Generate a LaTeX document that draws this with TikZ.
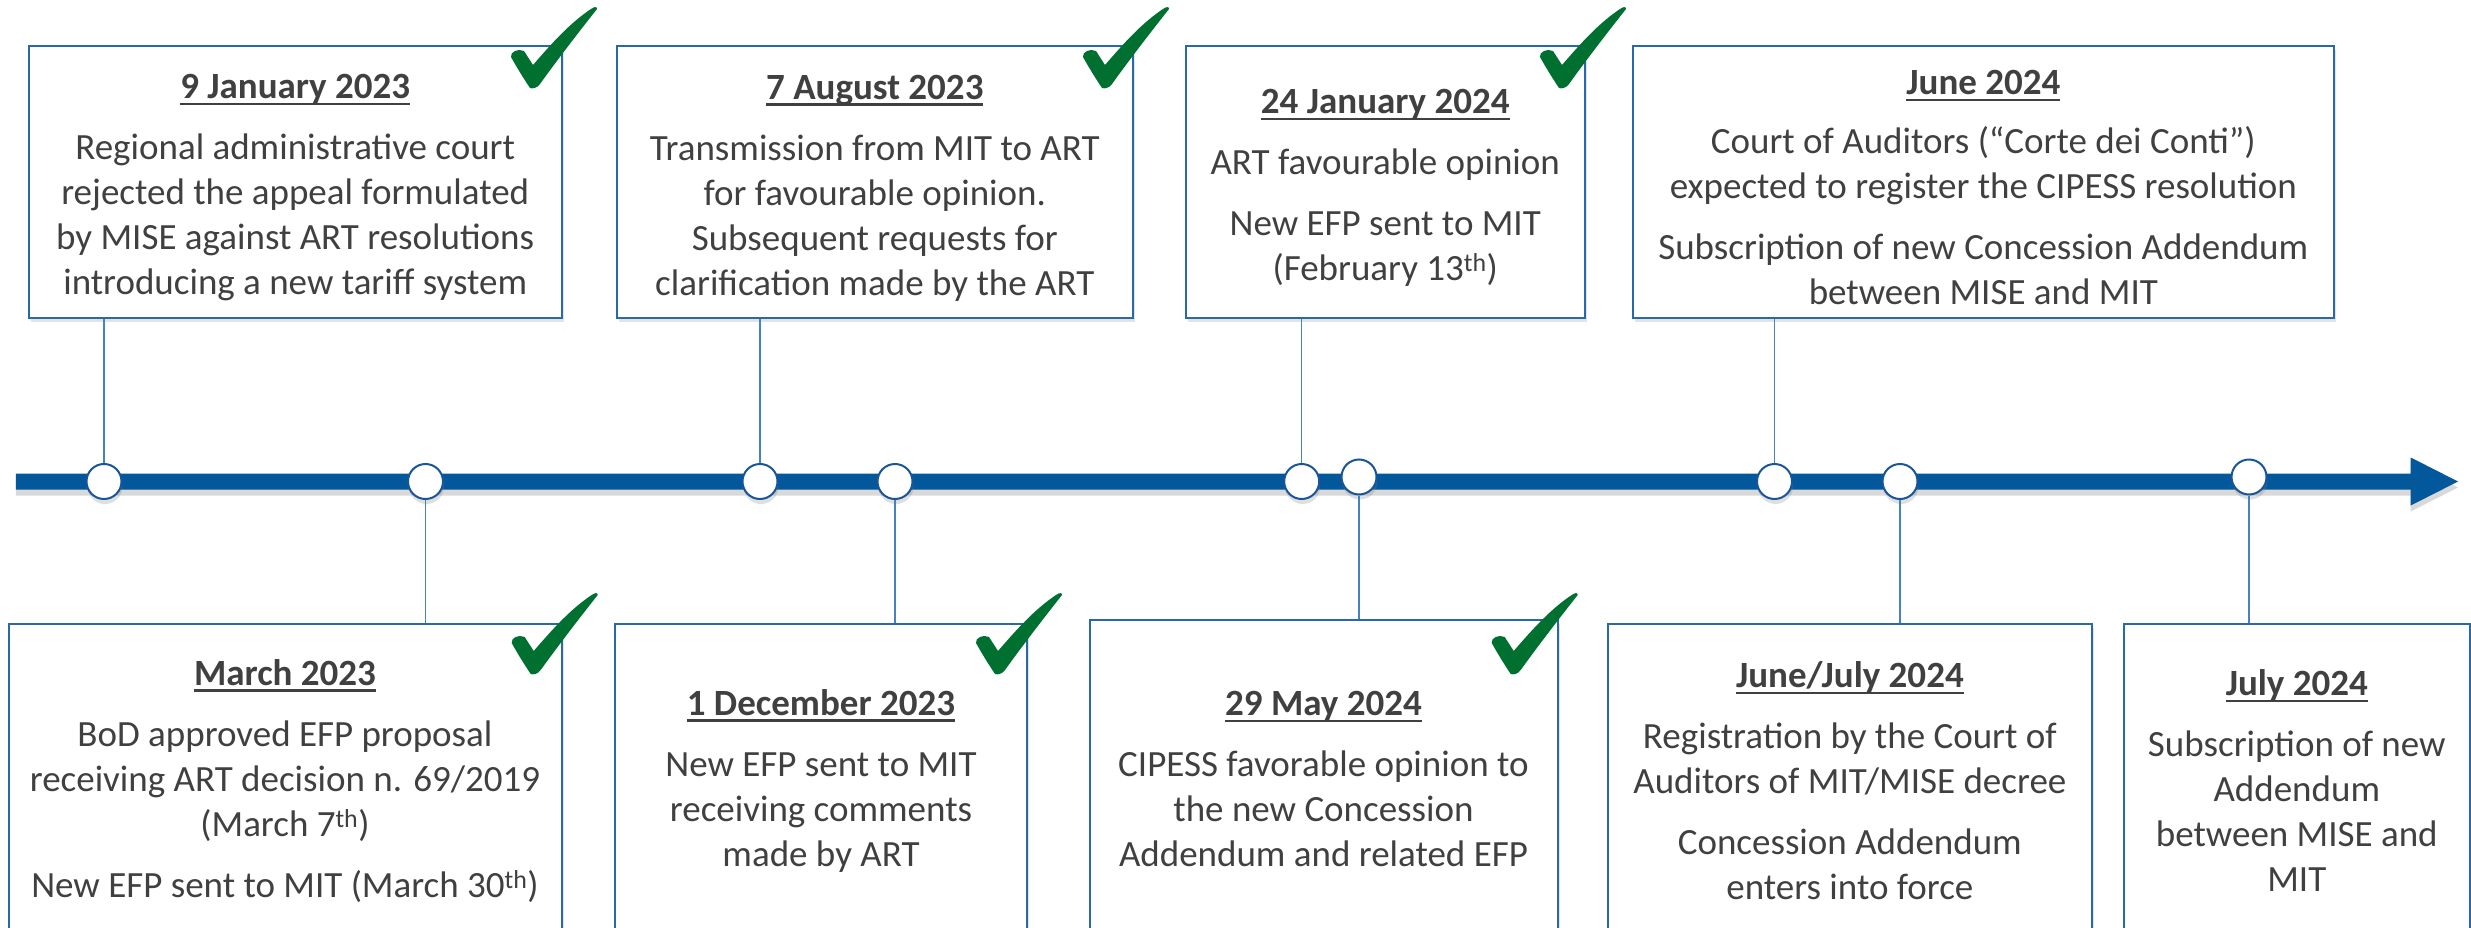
\documentclass[tikz,border=0pt]{standalone}
\usepackage{fontspec}
\setmainfont{Carlito}
\usetikzlibrary{shadows}
\definecolor{tl}{RGB}{2,88,154}
\definecolor{bx}{RGB}{40,105,170}
\definecolor{dotc}{RGB}{25,85,155}
\definecolor{cn}{RGB}{70,130,190}
\definecolor{txt}{RGB}{64,64,64}
\definecolor{ck}{RGB}{0,112,48}
\newcommand\ttl[1]{\setbox0=\hbox{\bfseries #1}\rlap{\vrule width\wd0 height -4pt depth 6.5pt}\box0}
\newcommand\tstrut{\rule{0pt}{36pt}}
\newcommand\chk[1]{\fill[ck, shift={(#1)}] (0,0) .. controls (-8,12) and (-14,22) .. (-19,31)
  .. controls (-20,36) and (-12,40) .. (-6,37) -- (3,23) .. controls (22,45) and (40,65) .. (61,79)
  .. controls (64,81) and (67,82) .. (67,79) .. controls (48,55) and (25,25) .. (10,4)
  .. controls (7,0) and (3,-1) .. (0,0) -- cycle;}
\begin{document}
\begin{tikzpicture}[x=1pt,y=1pt,
  box/.style={draw=bx, line width=2pt, fill=white, rectangle, inner sep=0pt, align=center, text=txt,
    font=\fontsize{37}{45}\selectfont, anchor=north west,
    drop shadow={opacity=0.22, shadow xshift=2pt, shadow yshift=-4pt}},
  dot/.style={circle, draw=dotc, line width=2pt, fill=white, minimum size=35pt, inner sep=0pt,
    drop shadow={opacity=0.25, shadow xshift=1pt, shadow yshift=-5pt}},
  conn/.style={draw=cn, line width=1.5pt}]
\useasboundingbox (0,0) rectangle (2471,-928);
\clip (0,0) rectangle (2471,-928);
% timeline
\coordinate (ts) at (15.8,-481.5);
\coordinate (te) at (2458,-481.5);
\fill[tl, drop shadow={opacity=0.3, shadow xshift=0pt, shadow yshift=-6pt}]
  ([yshift=8pt]ts) -- ([xshift=-47.3pt,yshift=8pt]te) -- ([xshift=-47.3pt,yshift=24pt]te) -- (te)
  -- ([xshift=-47.3pt,yshift=-24pt]te) -- ([xshift=-47.3pt,yshift=-8pt]te) -- ([yshift=-8pt]ts) -- cycle;
% top boxes
\node[box, minimum width=533pt, minimum height=272pt] (b1) at (27.7,-45)
  {\tstrut\ttl{9 January 2023}\\[16pt] Regional administrative court\\ rejected the appeal formulated\\ by MISE against ART resolutions\\ introducing a new tariff system};
\node[box, minimum width=516pt, minimum height=272pt] (b2) at (615.8,-45)
  {\tstrut\ttl{7 August 2023}\\[16pt] Transmission from MIT to ART\\ for favourable opinion.\\ Subsequent requests for\\ clarification made by the ART};
\node[box, minimum width=399.5pt, minimum height=272pt] (b3) at (1184.5,-45)
  {\tstrut\ttl{24 January 2024}\\[16pt] ART favourable opinion\\[16pt] New EFP sent to MIT\\ (February 13\textsuperscript{th})};
\node[box, minimum width=701.3pt, minimum height=272pt] (b4) at (1631.7,-45)
  {\tstrut\ttl{June 2024}\\[14pt] Court of Auditors (“Corte dei Conti”)\\ expected to register the CIPESS resolution\\[16pt] Subscription of new Concession Addendum\\ between MISE and MIT};
% bottom boxes
\node[box, minimum width=553pt, minimum height=314.3pt] (b5) at (7.5,-622.7)
  {\ttl{March 2023}\\[16pt] BoD approved EFP proposal\\ receiving ART decision n. 69/2019\\ (March 7\textsuperscript{th})\\[16pt] New EFP sent to MIT (March 30\textsuperscript{th})};
\node[box, minimum width=412pt, minimum height=314.3pt] (b6) at (614,-622.7)
  {\ttl{1 December 2023}\\[16pt] New EFP sent to MIT\\ receiving comments\\ made by ART};
\node[box, minimum width=468pt, minimum height=318pt] (b7) at (1088.5,-619)
  {\ttl{29 May 2024}\\[16pt] CIPESS favorable opinion to\\ the new Concession\\ Addendum and related EFP};
\node[box, minimum width=484.3pt, minimum height=314.3pt] (b8) at (1606.7,-622.7)
  {\ttl{June/July 2024}\\[16pt] Registration by the Court of\\ Auditors of MIT/MISE decree\\[16pt] Concession Addendum\\ enters into force};
\node[box, minimum width=346.4pt, minimum height=314.3pt] (b9) at (2122.6,-622.7)
  {\ttl{July 2024}\\[16pt] Subscription of new\\ Addendum\\ between MISE and\\ MIT};
% circles
\node[dot] (c1) at (104,-481.5) {};
\node[dot] (c2) at (425.5,-481.5) {};
\node[dot] (c3) at (760,-481.5) {};
\node[dot] (c4) at (895,-481.5) {};
\node[dot] (c5) at (1301.7,-481.5) {};
\node[dot] (c6) at (1359,-477) {};
\node[dot] (c7) at (1774.5,-481.5) {};
\node[dot] (c8) at (1900,-481.5) {};
\node[dot] (c9) at (2249,-477) {};
% connectors
\draw[conn] (c1) -- (c1 |- b1.south);
\draw[conn] (c3) -- (c3 |- b2.south);
\draw[conn] (c5) -- (c5 |- b3.south);
\draw[conn] (c7) -- (c7 |- b4.south);
\draw[conn] (c2) -- (c2 |- b5.north);
\draw[conn] (c4) -- (c4 |- b6.north);
\draw[conn] (c6) -- (c6 |- b7.north);
\draw[conn] (c8) -- (c8 |- b8.north);
\draw[conn] (c9) -- (c9 |- b9.north);
% checkmarks
\chk{530,-88}
\chk{1102,-88}
\chk{1559,-88}
\chk{530.7,-674}
\chk{995,-674}
\chk{1510.7,-674}
\end{tikzpicture}
\end{document}
